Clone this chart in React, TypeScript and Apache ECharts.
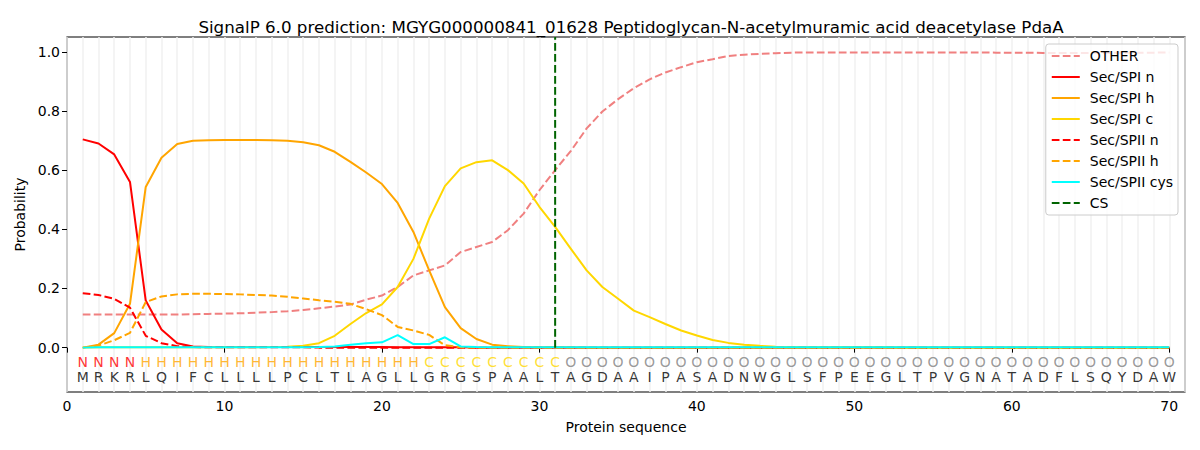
import React, { useEffect, useRef } from 'react';
import * as echarts from 'echarts';

const TITLE = 'SignalP 6.0 prediction: MGYG000000841_01628 Peptidoglycan-N-acetylmuramic acid deacetylase PdaA';

const sequence = 'MRKRLQIFCLLLLPCLTLAGLLGRGSPAALTAGDAAIPASADNWGLSFPEEGLTPVGNATADFLSQYDAW'.split('');
const regions = 'NNNNHHHHHHHHHHHHHHHHHHCCCCCCCCCOOOOOOOOOOOOOOOOOOOOOOOOOOOOOOOOOOOOOOO'.split('');
const regionColors: Record<string, string> = { N: '#ff0000', H: '#ffa500', C: '#ffd700', O: '#808080' };

const xTicks = [0, 10, 20, 30, 40, 50, 60, 70];
const yTicks = [0, 0.2, 0.4, 0.6, 0.8, 1.0];
const csPosition = 31;

const other = [
  0.112, 0.112, 0.112, 0.112, 0.112, 0.112, 0.112, 0.113, 0.114, 0.115,
  0.116, 0.118, 0.12, 0.123, 0.127, 0.133, 0.139, 0.146, 0.162, 0.176,
  0.205, 0.244, 0.261, 0.278, 0.323, 0.34, 0.357, 0.397, 0.453, 0.532,
  0.6, 0.665, 0.741, 0.798, 0.84, 0.877, 0.907, 0.93, 0.948, 0.965,
  0.975, 0.986, 0.99, 0.993, 0.995, 0.997, 0.998, 0.998, 0.998, 0.998,
  0.998, 0.998, 0.998, 0.998, 0.998, 0.998, 0.998, 0.998, 0.997, 0.997,
  0.997, 0.996, 0.996, 0.996, 0.996, 0.996, 0.997, 0.997, 0.997, 0.998,
];
const spiN = [
  0.704, 0.69, 0.653, 0.56, 0.159, 0.061, 0.015, 0.004, 0.002, 0.002,
  0.002, 0.002, 0.002, 0.002, 0.002, 0.002, 0.002, 0.002, 0.002, 0.002,
  0.001, 0.001, 0.001, 0.001, 0.001, 0, 0, 0, 0, 0,
  0, 0, 0, 0, 0, 0, 0, 0, 0, 0,
  0, 0, 0, 0, 0, 0, 0, 0, 0, 0,
  0, 0, 0, 0, 0, 0, 0, 0, 0, 0,
  0, 0, 0, 0, 0, 0, 0, 0, 0, 0,
];
const spiH = [
  0, 0.01, 0.049, 0.148, 0.543, 0.642, 0.688, 0.699, 0.701, 0.702,
  0.702, 0.702, 0.701, 0.699, 0.694, 0.684, 0.662, 0.628, 0.592, 0.553,
  0.489, 0.391, 0.261, 0.137, 0.066, 0.029, 0.01, 0.005, 0.002, 0.001,
  0.001, 0.001, 0, 0, 0, 0, 0, 0, 0, 0,
  0, 0, 0, 0, 0, 0, 0, 0, 0, 0,
  0, 0, 0, 0, 0, 0, 0, 0, 0, 0,
  0, 0, 0, 0, 0, 0, 0, 0, 0, 0,
];
const spiC = [
  0, 0.001, 0.001, 0.001, 0.001, 0.001, 0.001, 0.001, 0.001, 0.001,
  0.001, 0.001, 0.002, 0.003, 0.006, 0.015, 0.04, 0.08, 0.117, 0.146,
  0.205, 0.3, 0.436, 0.546, 0.606, 0.627, 0.633, 0.6, 0.555, 0.476,
  0.408, 0.334, 0.261, 0.205, 0.165, 0.125, 0.103, 0.08, 0.058, 0.041,
  0.026, 0.016, 0.01, 0.006, 0.003, 0.002, 0.001, 0.001, 0.001, 0.001,
  0.001, 0.001, 0, 0, 0, 0, 0, 0, 0, 0,
  0, 0, 0, 0, 0, 0, 0, 0, 0, 0,
];
const spiiN = [
  0.184, 0.178, 0.165, 0.135, 0.04, 0.015, 0.005, 0.002, 0.001, 0.001,
  0.001, 0.001, 0.001, 0.001, 0.001, 0, 0, 0, 0, 0,
  0, 0, 0, 0, 0, 0, 0, 0, 0, 0,
  0, 0, 0, 0, 0, 0, 0, 0, 0, 0,
  0, 0, 0, 0, 0, 0, 0, 0, 0, 0,
  0, 0, 0, 0, 0, 0, 0, 0, 0, 0,
  0, 0, 0, 0, 0, 0, 0, 0, 0, 0,
];
const spiiH = [
  0, 0.007, 0.025, 0.05, 0.154, 0.173, 0.18, 0.182, 0.182, 0.181,
  0.18, 0.178, 0.176, 0.172, 0.166, 0.16, 0.155, 0.148, 0.13, 0.11,
  0.07, 0.058, 0.043, 0.008, 0.001, 0, 0, 0, 0, 0,
  0, 0, 0, 0, 0, 0, 0, 0, 0, 0,
  0, 0, 0, 0, 0, 0, 0, 0, 0, 0,
  0, 0, 0, 0, 0, 0, 0, 0, 0, 0,
  0, 0, 0, 0, 0, 0, 0, 0, 0, 0,
];
const spiiCys = [
  0, 0.001, 0.001, 0.001, 0.001, 0.001, 0.001, 0.001, 0.001, 0.001,
  0.001, 0.001, 0.001, 0.001, 0.001, 0.002, 0.004, 0.01, 0.015, 0.018,
  0.042, 0.012, 0.012, 0.035, 0.004, 0.002, 0.001, 0.001, 0.001, 0.001,
  0.001, 0.001, 0.001, 0.001, 0.001, 0.001, 0.001, 0.001, 0.001, 0.001,
  0.001, 0.001, 0.001, 0.001, 0.001, 0.001, 0.001, 0.001, 0.001, 0.001,
  0.001, 0.001, 0.001, 0.001, 0.001, 0.001, 0.001, 0.001, 0.001, 0.001,
  0.001, 0.001, 0.001, 0.001, 0.001, 0.001, 0.001, 0.001, 0.001, 0.001,
];

const FONT = 'DejaVu Sans';
const DASH = [7.7, 3.3];

const toPoints = (vals: number[]) => vals.map((v, i) => [i + 1, v]);

const lineSeries = (name: string, vals: number[], color: string, dashed: boolean) => ({
  name,
  type: 'line',
  data: toPoints(vals),
  symbol: 'none',
  lineStyle: { color, width: 2, type: dashed ? DASH : 'solid' },
  itemStyle: { color },
  z: 3,
});

const letterSeries = (y: number, letters: string[], colorOf: (i: number) => string) => ({
  type: 'scatter',
  silent: true,
  symbolSize: 1,
  itemStyle: { color: 'rgba(0,0,0,0)' },
  data: letters.map((l, i) => ({
    value: [i + 1, y],
    label: { show: true, formatter: l, color: colorOf(i) },
  })),
  label: { show: true, position: 'inside', fontFamily: FONT, fontSize: 14 },
  z: 4,
});

const App: React.FC = () => {
  const ref = useRef<HTMLDivElement>(null);

  useEffect(() => {
    document.body.style.margin = '0';
    if (!ref.current) return;
    const chart = echarts.init(ref.current, null, { renderer: 'svg' });

    chart.setOption({
      animation: false,
      title: {
        text: TITLE,
        left: 626,
        top: 13,
        textAlign: 'center',
        textStyle: { fontFamily: FONT, fontSize: 16.7, fontWeight: 'normal', color: '#000' },
      },
      grid: {
        left: 67, right: 15, top: 37, bottom: 58,
        show: true, borderColor: '#000', borderWidth: 1.2, backgroundColor: 'transparent',
      },
      legend: {
        orient: 'vertical',
        right: 22,
        top: 44,
        data: ['OTHER', 'Sec/SPI n', 'Sec/SPI h', 'Sec/SPI c', 'Sec/SPII n', 'Sec/SPII h', 'Sec/SPII cys', 'CS'],
        itemWidth: 28,
        itemHeight: 14,
        itemGap: 7,
        padding: [5, 5, 5, 5],
        itemStyle: { opacity: 0 },
        backgroundColor: 'rgba(255,255,255,0.8)',
        borderColor: '#cccccc',
        borderWidth: 1,
        borderRadius: 3,
        textStyle: { fontFamily: FONT, fontSize: 14, color: '#000', padding: [0, 0, 0, 5] },
      },
      xAxis: [
        {
          type: 'value', min: 0, max: 71,
          name: 'Protein sequence', nameLocation: 'middle', nameGap: 28,
          nameTextStyle: { fontFamily: FONT, fontSize: 14, color: '#000' },
          axisLine: { show: false },
          splitLine: { show: false },
          axisTick: { show: true, customValues: xTicks, length: 5, lineStyle: { color: '#000' } },
          axisLabel: { customValues: xTicks, fontFamily: FONT, fontSize: 14, color: '#000', margin: 7 },
        },
        {
          type: 'value', min: 0, max: 71, interval: 1, position: 'bottom',
          axisLine: { show: false }, axisTick: { show: false }, axisLabel: { show: false },
          splitLine: { show: true, lineStyle: { color: '#f0f0f0', width: 1.5 } },
        },
      ],
      yAxis: {
        type: 'value', min: -0.15, max: 1.05,
        name: 'Probability', nameLocation: 'middle', nameGap: 39,
        nameTextStyle: { fontFamily: FONT, fontSize: 14, color: '#000' },
        axisLine: { show: false },
        splitLine: { show: false },
        axisTick: { show: true, customValues: yTicks, length: 5, lineStyle: { color: '#000' } },
        axisLabel: {
          customValues: yTicks, fontFamily: FONT, fontSize: 14, color: '#000', margin: 7,
          formatter: (v: number) => v.toFixed(1),
        },
      },
      series: [
        lineSeries('OTHER', other, '#f08080', true),
        lineSeries('Sec/SPI n', spiN, '#ff0000', false),
        lineSeries('Sec/SPI h', spiH, '#ffa500', false),
        lineSeries('Sec/SPI c', spiC, '#ffd700', false),
        lineSeries('Sec/SPII n', spiiN, '#ff0000', true),
        lineSeries('Sec/SPII h', spiiH, '#ffa500', true),
        lineSeries('Sec/SPII cys', spiiCys, '#00ffff', false),
        {
          name: 'CS',
          type: 'line',
          data: [[csPosition, 0], [csPosition, 1.05]],
          symbol: 'none',
          lineStyle: { color: '#006400', width: 2, type: DASH },
          itemStyle: { color: '#006400' },
          z: 3,
        },
        letterSeries(-0.047, regions, i => regionColors[regions[i]]),
        letterSeries(-0.098, sequence, () => '#000'),
      ],
    });

    return () => { chart.dispose(); };
  }, []);

  return <div ref={ref} style={{ width: 1200, height: 450 }} />;
};

export default App;
